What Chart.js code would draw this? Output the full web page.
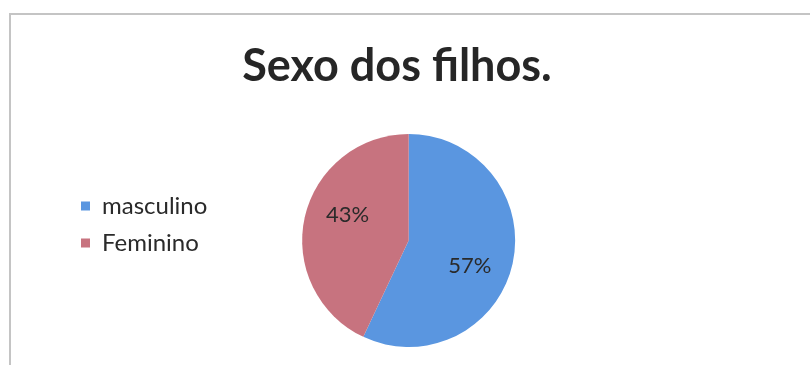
<!DOCTYPE html>
<html>
<head>
<meta charset="utf-8">
<script src="https://cdn.jsdelivr.net/npm/chart.js@4.4.0/dist/chart.umd.min.js"></script>
<style>
  html, body { margin: 0; padding: 0; background: #fff; }
  #wrap { position: relative; width: 810px; height: 365px; overflow: hidden; }
  #frame {
    position: absolute; left: 9px; top: 13px; width: 900px; height: 400px;
    border-left: 2px solid #c4c4c4; border-top: 2px solid #c4c4c4;
  }
  canvas { position: absolute; left: 0; top: 0; }
</style>
</head>
<body>
<div id="wrap">
  <div id="frame"></div>
  <canvas id="chart" width="810" height="365"></canvas>
</div>
<script>
const titleText = 'Sexo dos filhos.';
const categories = ['masculino', 'Feminino'];
const percentValues = [57, 43];
const sliceColors = ['#5a96e0', '#c7737f'];

// rótulos de porcentagem dentro das fatias
const sliceLabels = {
  id: 'sliceLabels',
  afterDatasetsDraw(chart) {
    const ctx = chart.ctx;
    const meta = chart.getDatasetMeta(0);
    ctx.save();
    ctx.font = '22px Lato';
    ctx.fillStyle = '#2a2a2a';
    ctx.textAlign = 'center';
    ctx.textBaseline = 'middle';
    meta.data.forEach((arc, i) => {
      const {x, y, startAngle, endAngle, outerRadius} = arc.getProps(
        ['x', 'y', 'startAngle', 'endAngle', 'outerRadius'], true);
      const mid = (startAngle + endAngle) / 2 + 0.17;
      const r = outerRadius * 0.62;
      ctx.fillText(percentValues[i] + '%', x + Math.cos(mid) * r, y + Math.sin(mid) * r);
    });
    ctx.restore();
  },
};

// ajustes de posição do título e da legenda
const nudgeBoxes = {
  id: 'nudgeBoxes',
  afterLayout(chart) {
    chart.titleBlock.left = 0;
    chart.titleBlock.right = chart.width - 16;
    chart.legend.top -= 16;
    chart.legend.bottom -= 16;
  },
};

new Chart(document.getElementById('chart'), {
  type: 'pie',
  data: {
    labels: categories,
    datasets: [{
      data: percentValues,
      backgroundColor: sliceColors,
      borderWidth: 0,
    }],
  },
  options: {
    responsive: false,
    animation: false,
    layout: {padding: {top: 38, bottom: 18, left: 68, right: 210}},
    plugins: {
      title: {
        display: true,
        text: titleText,
        color: '#262626',
        font: {family: 'Lato', size: 45, weight: 'bold', lineHeight: 1.2},
        padding: {top: 1, bottom: 41},
      },
      legend: {
        position: 'left',
        fullSize: false,
        labels: {
          boxWidth: 9,
          boxHeight: 9,
          padding: 13,
          color: '#2a2a2a',
          font: {family: 'Lato', size: 24},
        },
      },
      tooltip: {enabled: false},
    },
  },
  plugins: [sliceLabels, nudgeBoxes],
});
</script>
</body>
</html>
